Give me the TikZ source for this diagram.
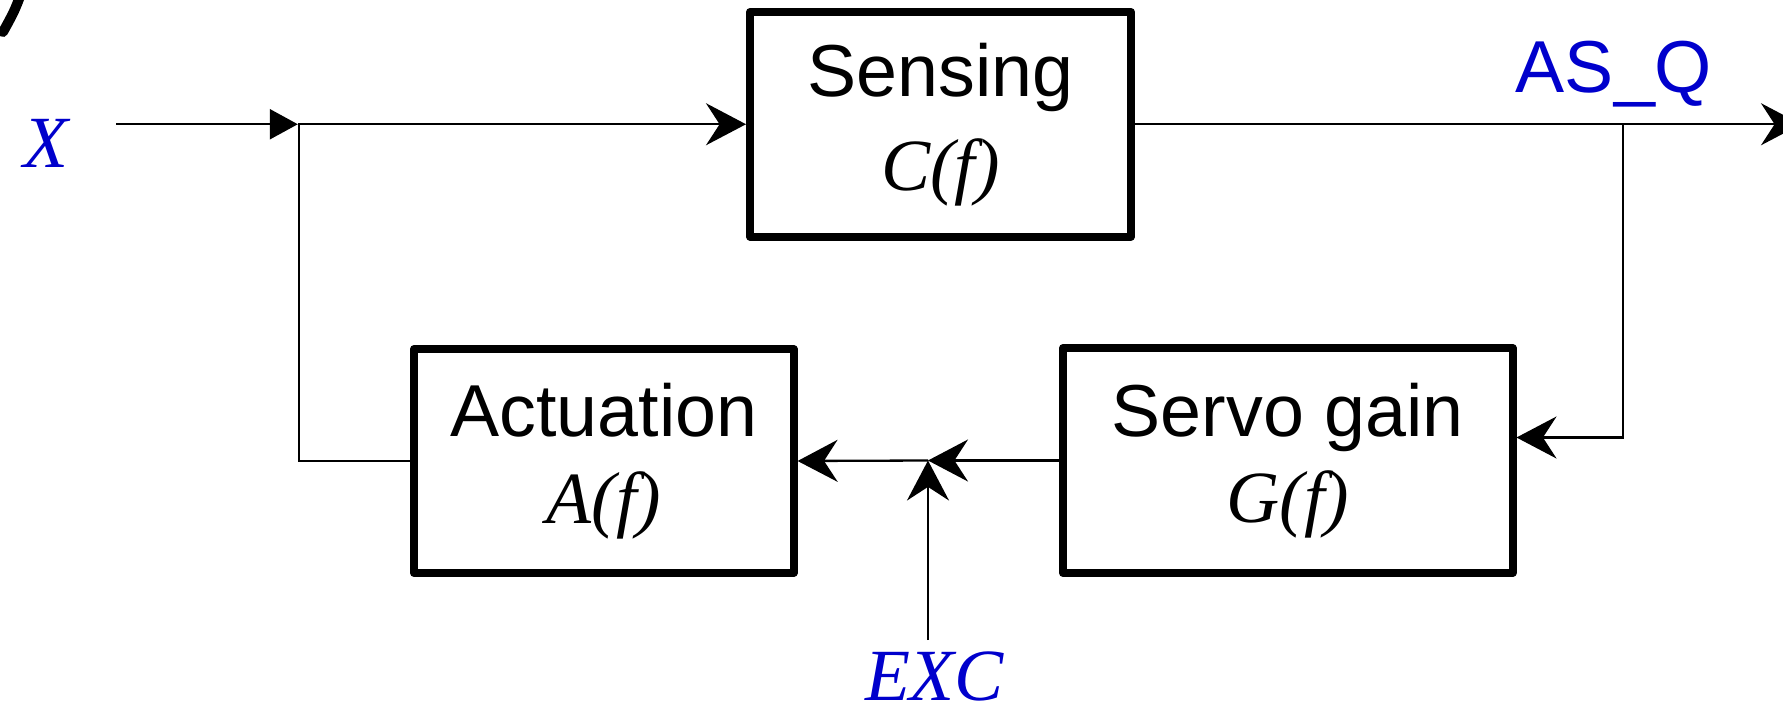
\documentclass[tikz,border=0pt]{standalone}
\usepackage{fontspec}
\setmainfont{Liberation Serif}
\setsansfont{Liberation Sans}
\usetikzlibrary{arrows.meta}
\definecolor{lblblue}{RGB}{0,0,204}
\tikzset{
  blockbox/.style={draw, line width=4pt, line join=round, inner sep=0pt, align=center,
    font=\fontsize{36.8pt}{43.25pt}\selectfont},
  conn/.style={line width=1.15pt},
  stl/.style={-{Stealth[length=20pt,width=21pt,inset=6.8pt]}},
  tri/.style={-{Triangle[length=14pt,width=15pt]}},
  sig/.style={text=lblblue, inner sep=0pt, anchor=base, font=\fontsize{36.8pt}{44pt}\selectfont},
}
\begin{document}
\begin{tikzpicture}[x=0.5pt,y=-0.5pt]
\useasboundingbox (0,0) rectangle (1783,706);
\clip (0,0) rectangle (1783,706);
% small artifact at top-left
\draw[line width=5pt, line cap=round] (21,-6) .. controls (14,12) .. (3,32);
% blocks
\node[blockbox, minimum width=190.5pt, minimum height=112.25pt,
      font=\fontsize{36.8pt}{47pt}\selectfont] (sens) at (940.5,124.25)
      {{\sffamily Sensing}\\{\itshape C(f)}};
\node[blockbox, minimum width=189.8pt, minimum height=112pt] (act) at (603.8,461)
      {{\sffamily Actuation}\\{\itshape A(f)}};
\node[blockbox, minimum width=224.75pt, minimum height=112.5pt] (serv) at (1287.75,460.5)
      {{\sffamily Servo gain}\\{\itshape G(f)}};
% labels
\node[sig] (X) at (46,168) {\itshape X};
\node[sig] (asq) at (1614,93) {\sffamily AS\_Q};
\node[sig] (exc) at (934.5,700) {\itshape EXC};
% coordinates
\coordinate (xin) at (116,124.25);
\coordinate (j1) at (299,124.25);
\coordinate (tap) at (1623,124.25);
\coordinate (out) at (1801,124.25);
\coordinate (sum) at (928,460.5);
\coordinate (excin) at (928,640);
% connectors
\draw[conn, tri] (xin) -- ([xshift=-0.6pt]j1);
\draw[conn, stl] (act.west) -| (j1) -- (sens.west);
\draw[conn, stl] (sens.east) -- (out);
\draw[conn, stl] (tap) |- ([yshift=11.5pt]serv.east);
\draw[conn, stl] (serv.west) -- (sum);
\draw[conn, stl] (sum) -- (act.east);
\draw[conn, stl] (excin) -- (sum);
\end{tikzpicture}
\end{document}
